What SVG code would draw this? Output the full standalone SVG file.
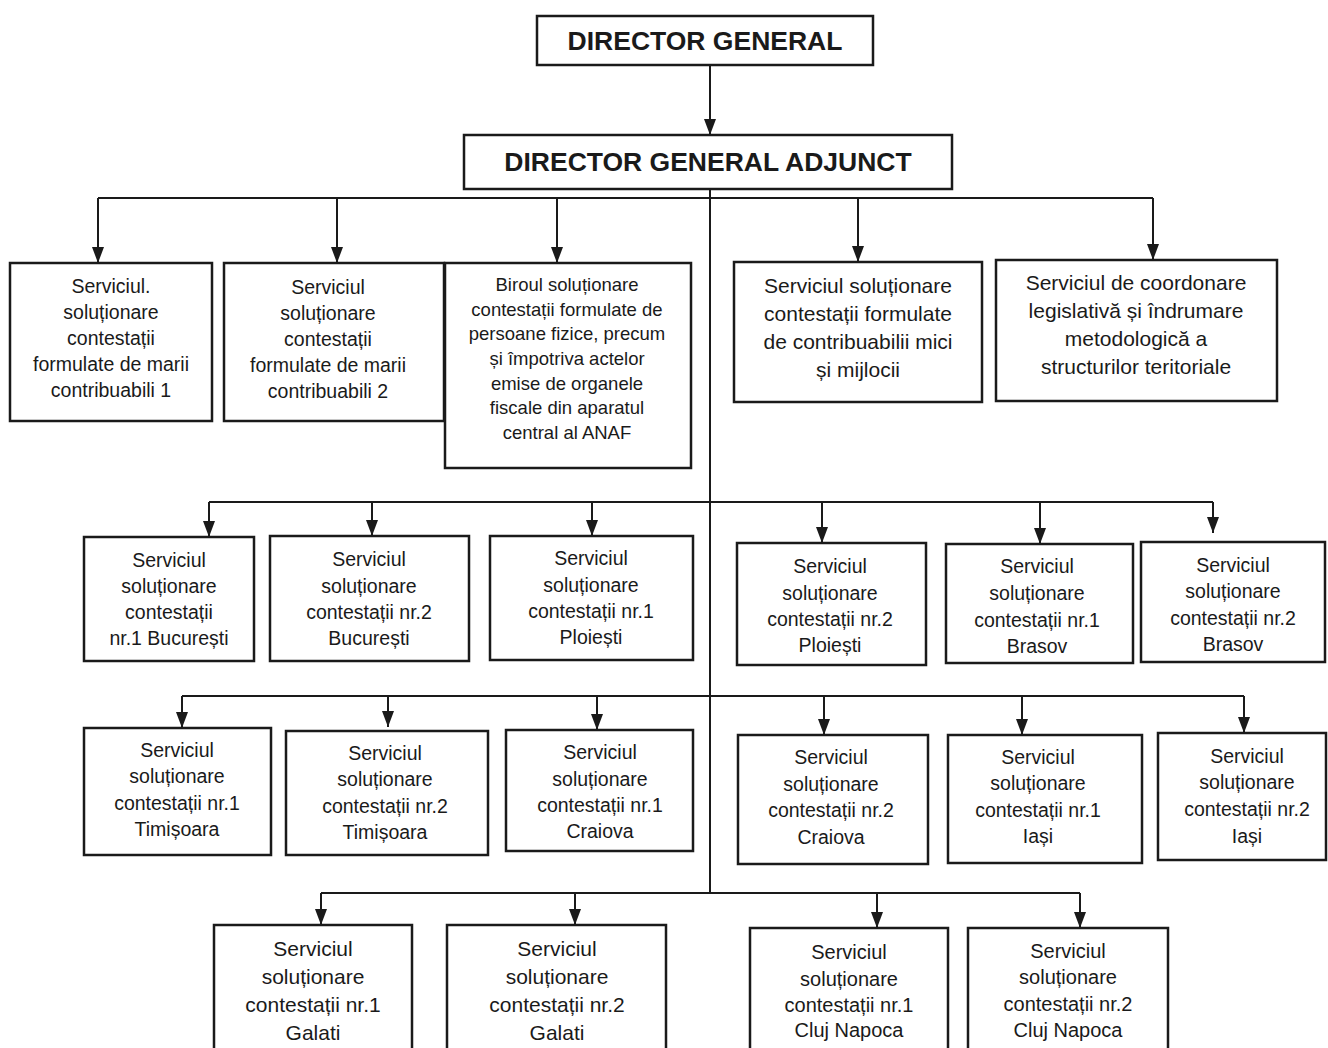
<svg xmlns="http://www.w3.org/2000/svg" width="1328" height="1048" viewBox="0 0 1328 1048">
<defs>
<marker id="ah" viewBox="0 0 16 12" refX="16" refY="6" markerWidth="16" markerHeight="12" markerUnits="userSpaceOnUse" orient="auto">
<path d="M0,0 L16,6 L0,12 z" fill="#1a1a1a"/>
</marker>
<style>
.box{fill:#fff;stroke:#1a1a1a;stroke-width:2.5}
.ln{stroke:#1a1a1a;stroke-width:2;fill:none}
.ar{stroke:#1a1a1a;stroke-width:2;fill:none;marker-end:url(#ah)}
text{font-family:"Liberation Sans",Arial,sans-serif;fill:#1a1a1a;text-anchor:middle}
.h{font-size:26.5px;font-weight:bold}
.t19{font-size:19.5px}
.t18{font-size:18.5px}
.t21{font-size:21px}
.t20{font-size:20px}
</style>
</defs>
<rect width="1328" height="1048" fill="#fff"/>

<g id="connectors">
<line class="ar" x1="710" y1="64" x2="710" y2="135"/>
<line class="ln" x1="710" y1="189" x2="710" y2="893"/>
<line class="ln" x1="98" y1="198" x2="1153" y2="198"/>
<line class="ar" x1="98" y1="198" x2="98" y2="263"/>
<line class="ar" x1="337" y1="198" x2="337" y2="263"/>
<line class="ar" x1="557" y1="198" x2="557" y2="263"/>
<line class="ar" x1="858" y1="198" x2="858" y2="262"/>
<line class="ar" x1="1153" y1="198" x2="1153" y2="260"/>
<line class="ln" x1="209" y1="502" x2="1213" y2="502"/>
<line class="ar" x1="209" y1="502" x2="209" y2="537"/>
<line class="ar" x1="372" y1="502" x2="372" y2="536"/>
<line class="ar" x1="592" y1="502" x2="592" y2="536"/>
<line class="ar" x1="822" y1="502" x2="822" y2="543"/>
<line class="ar" x1="1040" y1="502" x2="1040" y2="544"/>
<line class="ar" x1="1213" y1="502" x2="1213" y2="533"/>
<line class="ln" x1="182" y1="696" x2="1244" y2="696"/>
<line class="ar" x1="182" y1="696" x2="182" y2="728"/>
<line class="ar" x1="388" y1="696" x2="388" y2="727"/>
<line class="ar" x1="597" y1="696" x2="597" y2="730"/>
<line class="ar" x1="824" y1="696" x2="824" y2="735"/>
<line class="ar" x1="1022" y1="696" x2="1022" y2="735"/>
<line class="ar" x1="1244" y1="696" x2="1244" y2="733"/>
<line class="ln" x1="321" y1="893" x2="1080" y2="893"/>
<line class="ar" x1="321" y1="893" x2="321" y2="925"/>
<line class="ar" x1="575" y1="893" x2="575" y2="925"/>
<line class="ar" x1="877" y1="893" x2="877" y2="928"/>
<line class="ar" x1="1080" y1="893" x2="1080" y2="928"/>
</g>

<g id="dg"><rect class="box" x="537" y="16" width="336" height="49"/>
<text class="h" x="705" y="50">DIRECTOR GENERAL</text></g>
<g id="dga"><rect class="box" x="464" y="135" width="488" height="54"/>
<text class="h" x="708" y="171">DIRECTOR GENERAL ADJUNCT</text></g>

<g id="r1b1"><rect class="box" x="10" y="263" width="202" height="158"/>
<text class="t19" x="111"><tspan x="111" y="293">Serviciul.</tspan><tspan x="111" y="319">soluționare</tspan><tspan x="111" y="345">contestații</tspan><tspan x="111" y="371">formulate de marii</tspan><tspan x="111" y="397">contribuabili 1</tspan></text></g>
<g id="r1b2"><rect class="box" x="224" y="263" width="220" height="158"/>
<text class="t19" x="328"><tspan x="328" y="294">Serviciul</tspan><tspan x="328" y="320">soluționare</tspan><tspan x="328" y="346">contestații</tspan><tspan x="328" y="372">formulate de marii</tspan><tspan x="328" y="398">contribuabili 2</tspan></text></g>
<g id="r1b3"><rect class="box" x="445" y="263" width="246" height="205"/>
<text class="t18" x="567"><tspan x="567" y="291">Biroul soluționare</tspan><tspan x="567" y="316">contestații formulate de</tspan><tspan x="567" y="340">persoane fizice, precum</tspan><tspan x="567" y="365">și împotriva actelor</tspan><tspan x="567" y="390">emise de organele</tspan><tspan x="567" y="414">fiscale din aparatul</tspan><tspan x="567" y="439">central al ANAF</tspan></text></g>
<g id="r1b4"><rect class="box" x="734" y="262" width="248" height="140"/>
<text class="t21" x="858"><tspan x="858" y="293">Serviciul soluționare</tspan><tspan x="858" y="321">contestații formulate</tspan><tspan x="858" y="349">de contribuabilii mici</tspan><tspan x="858" y="377">și mijlocii</tspan></text></g>
<g id="r1b5"><rect class="box" x="996" y="260" width="281" height="141"/>
<text class="t21" x="1136"><tspan x="1136" y="290">Serviciul de coordonare</tspan><tspan x="1136" y="318">legislativă și îndrumare</tspan><tspan x="1136" y="346">metodologică a</tspan><tspan x="1136" y="374">structurilor teritoriale</tspan></text></g>

<g id="r2b1"><rect class="box" x="84" y="537" width="170" height="124"/>
<text class="t19" x="169"><tspan x="169" y="567">Serviciul</tspan><tspan x="169" y="593">soluționare</tspan><tspan x="169" y="619">contestații</tspan><tspan x="169" y="645">nr.1 București</tspan></text></g>
<g id="r2b2"><rect class="box" x="270" y="536" width="199" height="125"/>
<text class="t19" x="369"><tspan x="369" y="566">Serviciul</tspan><tspan x="369" y="593">soluționare</tspan><tspan x="369" y="619">contestații nr.2</tspan><tspan x="369" y="645">București</tspan></text></g>
<g id="r2b3"><rect class="box" x="490" y="536" width="203" height="124"/>
<text class="t19" x="591"><tspan x="591" y="565">Serviciul</tspan><tspan x="591" y="592">soluționare</tspan><tspan x="591" y="618">contestații nr.1</tspan><tspan x="591" y="644">Ploiești</tspan></text></g>
<g id="r2b4"><rect class="box" x="737" y="543" width="189" height="122"/>
<text class="t19" x="830"><tspan x="830" y="573">Serviciul</tspan><tspan x="830" y="600">soluționare</tspan><tspan x="830" y="626">contestații nr.2</tspan><tspan x="830" y="652">Ploiești</tspan></text></g>
<g id="r2b5"><rect class="box" x="946" y="544" width="187" height="119"/>
<text class="t19" x="1037"><tspan x="1037" y="573">Serviciul</tspan><tspan x="1037" y="600">soluționare</tspan><tspan x="1037" y="627">contestații nr.1</tspan><tspan x="1037" y="653">Brasov</tspan></text></g>
<g id="r2b6"><rect class="box" x="1141" y="542" width="184" height="120"/>
<text class="t19" x="1233"><tspan x="1233" y="572">Serviciul</tspan><tspan x="1233" y="598">soluționare</tspan><tspan x="1233" y="625">contestații nr.2</tspan><tspan x="1233" y="651">Brasov</tspan></text></g>

<g id="r3b1"><rect class="box" x="84" y="728" width="187" height="127"/>
<text class="t19" x="177"><tspan x="177" y="757">Serviciul</tspan><tspan x="177" y="783">soluționare</tspan><tspan x="177" y="810">contestații nr.1</tspan><tspan x="177" y="836">Timișoara</tspan></text></g>
<g id="r3b2"><rect class="box" x="286" y="731" width="202" height="124"/>
<text class="t19" x="385"><tspan x="385" y="760">Serviciul</tspan><tspan x="385" y="786">soluționare</tspan><tspan x="385" y="813">contestații nr.2</tspan><tspan x="385" y="839">Timișoara</tspan></text></g>
<g id="r3b3"><rect class="box" x="506" y="730" width="187" height="121"/>
<text class="t19" x="600"><tspan x="600" y="759">Serviciul</tspan><tspan x="600" y="786">soluționare</tspan><tspan x="600" y="812">contestații nr.1</tspan><tspan x="600" y="838">Craiova</tspan></text></g>
<g id="r3b4"><rect class="box" x="738" y="735" width="190" height="129"/>
<text class="t19" x="831"><tspan x="831" y="764">Serviciul</tspan><tspan x="831" y="791">soluționare</tspan><tspan x="831" y="817">contestații nr.2</tspan><tspan x="831" y="844">Craiova</tspan></text></g>
<g id="r3b5"><rect class="box" x="948" y="735" width="194" height="128"/>
<text class="t19" x="1038"><tspan x="1038" y="764">Serviciul</tspan><tspan x="1038" y="790">soluționare</tspan><tspan x="1038" y="817">contestații nr.1</tspan><tspan x="1038" y="843">Iași</tspan></text></g>
<g id="r3b6"><rect class="box" x="1158" y="733" width="168" height="127"/>
<text class="t19" x="1247"><tspan x="1247" y="763">Serviciul</tspan><tspan x="1247" y="789">soluționare</tspan><tspan x="1247" y="816">contestații nr.2</tspan><tspan x="1247" y="843">Iași</tspan></text></g>

<g id="r4b1"><rect class="box" x="214" y="925" width="198" height="140"/>
<text class="t21" x="313"><tspan x="313" y="956">Serviciul</tspan><tspan x="313" y="984">soluționare</tspan><tspan x="313" y="1012">contestații nr.1</tspan><tspan x="313" y="1040">Galati</tspan></text></g>
<g id="r4b2"><rect class="box" x="447" y="925" width="219" height="140"/>
<text class="t21" x="557"><tspan x="557" y="956">Serviciul</tspan><tspan x="557" y="984">soluționare</tspan><tspan x="557" y="1012">contestații nr.2</tspan><tspan x="557" y="1040">Galati</tspan></text></g>
<g id="r4b3"><rect class="box" x="750" y="928" width="198" height="137"/>
<text class="t20" x="849"><tspan x="849" y="959">Serviciul</tspan><tspan x="849" y="986">soluționare</tspan><tspan x="849" y="1012">contestații nr.1</tspan><tspan x="849" y="1037">Cluj Napoca</tspan></text></g>
<g id="r4b4"><rect class="box" x="968" y="928" width="200" height="137"/>
<text class="t20" x="1068"><tspan x="1068" y="958">Serviciul</tspan><tspan x="1068" y="984">soluționare</tspan><tspan x="1068" y="1011">contestații nr.2</tspan><tspan x="1068" y="1037">Cluj Napoca</tspan></text></g>
</svg>
